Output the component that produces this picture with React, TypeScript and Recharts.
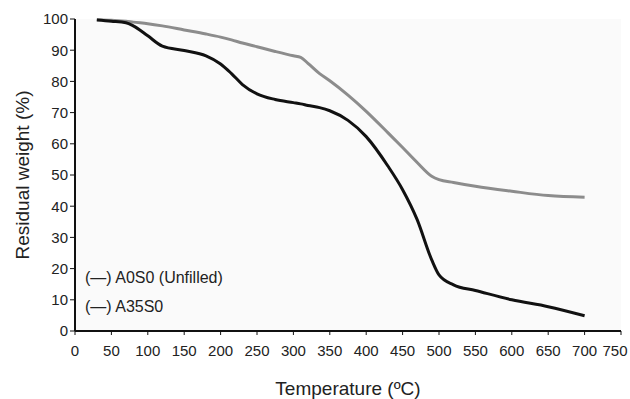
import React from 'react';
import { LineChart, Line, XAxis, YAxis, CartesianGrid, Legend, Label } from 'recharts';

// temperature grid (ºC) and residual weight (%)
const temps = [30, 50, 70, 80, 100, 120, 150, 180, 200, 215, 230, 250, 275, 300, 310, 320, 336, 350, 375, 400, 430, 450, 470, 490, 500, 520, 550, 600, 650, 700];
const weightA0S0 = [99.7, 99.3, 98.8, 97.8, 94.6, 91.3, 89.9, 88.2, 85.6, 82.5, 79.0, 76.0, 74.2, 73.2, 72.8, 72.3, 71.6, 70.6, 67.5, 62.3, 52.8, 45.3, 35.7, 22.8, 18.0, 14.8, 13.0, 10.0, 7.8, 4.9];
const weightA35S0 = [99.8, 99.6, 99.3, 99.0, 98.5, 97.8, 96.5, 95.2, 94.2, 93.3, 92.3, 91.1, 89.6, 88.2, 87.7, 85.8, 82.5, 80.2, 75.6, 70.4, 63.5, 58.8, 54.0, 49.6, 48.5, 47.6, 46.4, 44.8, 43.4, 42.9];

const xTicks = [0, 50, 100, 150, 200, 250, 300, 350, 400, 450, 500, 550, 600, 650, 700, 750];
const yTicks = [0, 10, 20, 30, 40, 50, 60, 70, 80, 90, 100];

const seriesNames = ['(\u2014) A0S0 (Unfilled)', '(\u2014) A35S0'];

const data = temps.map((t, i) => ({ t, a0s0: weightA0S0[i], a35s0: weightA35S0[i] }));

const FONT = '"Liberation Sans", Arial, sans-serif';
const tickStyle = { fontSize: 15, fill: '#222', fontFamily: FONT };

// keeps the last label inside the picture, as the original does
const XTick = (props: any) => {
  const { x, y, payload } = props;
  return (
    <text x={Math.min(x, 615)} y={y} dy="0.71em" textAnchor="middle" {...tickStyle}>
      {payload.value}
    </text>
  );
};

const LegendBox = () => (
  <div style={{ fontFamily: FONT, fontSize: 16, color: '#222', lineHeight: '29px', whiteSpace: 'nowrap' }}>
    {seriesNames.map((n) => (
      <div key={n}>{n}</div>
    ))}
  </div>
);

export default function App() {
  return (
    <div style={{ position: 'absolute', left: 0, top: 0, width: 630, height: 399, background: '#fff' }}>
      <LineChart width={630} height={399} data={data} margin={{ top: 19, right: 9, bottom: 0, left: 0 }}>
        <CartesianGrid horizontal={false} vertical={false} fill="#fafafa" />
        <XAxis
          dataKey="t"
          type="number"
          domain={[0, 750]}
          ticks={xTicks}
          interval={0}
          height={68}
          tick={<XTick />}
          tickSize={4}
          tickMargin={10}
          axisLine={{ stroke: '#111', strokeWidth: 2 }}
          tickLine={{ stroke: '#111' }}
        >
          <Label value="Temperature (ºC)" position="insideBottom" offset={4} style={{ fontSize: 19, fill: '#222', fontFamily: FONT }} />
        </XAxis>
        <YAxis
          type="number"
          domain={[0, 100]}
          ticks={yTicks}
          interval={0}
          width={75}
          tick={tickStyle}
          tickSize={5}
          tickMargin={2}
          axisLine={{ stroke: '#111', strokeWidth: 2 }}
          tickLine={{ stroke: '#111' }}
        >
          <Label value="Residual weight (%)" angle={-90} position="insideLeft" offset={22} style={{ fontSize: 19, fill: '#222', fontFamily: FONT, textAnchor: 'middle' }} />
        </YAxis>
        <XAxis xAxisId="top" orientation="top" type="number" domain={[0, 750]} height={0} tick={false} tickLine={false} axisLine={{ stroke: '#444', strokeWidth: 1.5 }} />
        <YAxis yAxisId="right" orientation="right" type="number" domain={[0, 100]} width={0} tick={false} tickLine={false} axisLine={{ stroke: '#444', strokeWidth: 1.5 }} />
        <Legend
          layout="vertical"
          align="center"
          verticalAlign="middle"
          content={<LegendBox />}
          wrapperStyle={{ left: 85, top: 263, width: 'auto' }}
        />
        <Line type="monotone" dataKey="a35s0" stroke="#8c8c8c" strokeWidth={3} dot={false} isAnimationActive={false} />
        <Line type="monotone" dataKey="a0s0" stroke="#111" strokeWidth={3} dot={false} isAnimationActive={false} />
      </LineChart>
    </div>
  );
}
